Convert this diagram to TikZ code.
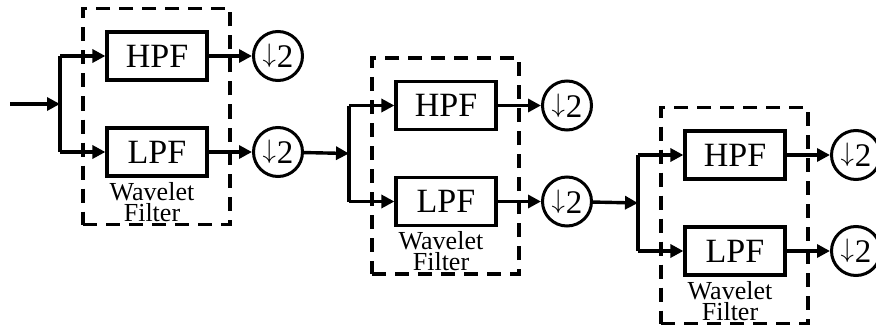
\documentclass[tikz,border=0pt]{standalone}
\usepackage{fontspec}
\setmainfont{Liberation Serif}
\usetikzlibrary{arrows.meta}
\newcommand{\dsym}{\raisebox{0.16em}{\resizebox*{!}{0.72em}{$\downarrow$}}\kern0.02em 2}
\begin{document}
\begin{tikzpicture}[x=1pt,y=-1pt,
  line/.style={line width=3.4pt},
  arr/.style={line width=3.4pt,-{Triangle[length=13pt,width=13pt]}},
  filt/.style={draw,line width=3.2pt,minimum width=100pt,minimum height=48pt,inner sep=0pt,font=\fontsize{34}{34}\selectfont},
  ds/.style={draw,circle,line width=3pt,minimum size=49pt,inner sep=0pt,font=\fontsize{33}{33}\selectfont},
  dashbox/.style={draw,line width=3.2pt,dash pattern=on 14pt off 9pt,minimum width=147pt,minimum height=216pt,inner sep=0pt},
  lab/.style={align=center,inner sep=0pt,font=\fontsize{26}{21}\selectfont}]
\clip (0,0) rectangle (876,329);
\coordinate (in) at (10,104);
\foreach \i [evaluate=\i as \xo using 60+289*(\i-1), evaluate=\i as \yh using 56+49.5*(\i-1)] in {1,2,3} {
  \coordinate (t\i) at (\xo,\yh);
  \coordinate (b\i) at (\xo,\yh+96);
  \coordinate (j\i) at (\xo,\yh+48);
  \node[dashbox] (w\i) at (\xo+96.5,\yh+60.5) {};
  \node[filt] (h\i) at (\xo+97,\yh) {HPF};
  \node[filt] (l\i) at (\xo+97,\yh+96) {LPF};
  \node[ds] (dh\i) at (\xo+218,\yh) {\dsym};
  \node[ds] (dl\i) at (\xo+218,\yh+96) {\dsym};
  \node[lab] (c\i) at (\xo+92,\yh+146) {Wavelet\\Filter};
  \draw[line] (t\i) -- (b\i);
  \draw[arr] (t\i) -- (h\i);
  \draw[arr] (b\i) -- (l\i);
  \draw[arr] (h\i) -- (dh\i);
  \draw[arr] (l\i) -- (dl\i);
}
\draw[arr] (in) -- (j1);
\draw[arr] (dl1) -- (j2);
\draw[arr] (dl2) -- (j3);
\end{tikzpicture}
\end{document}
